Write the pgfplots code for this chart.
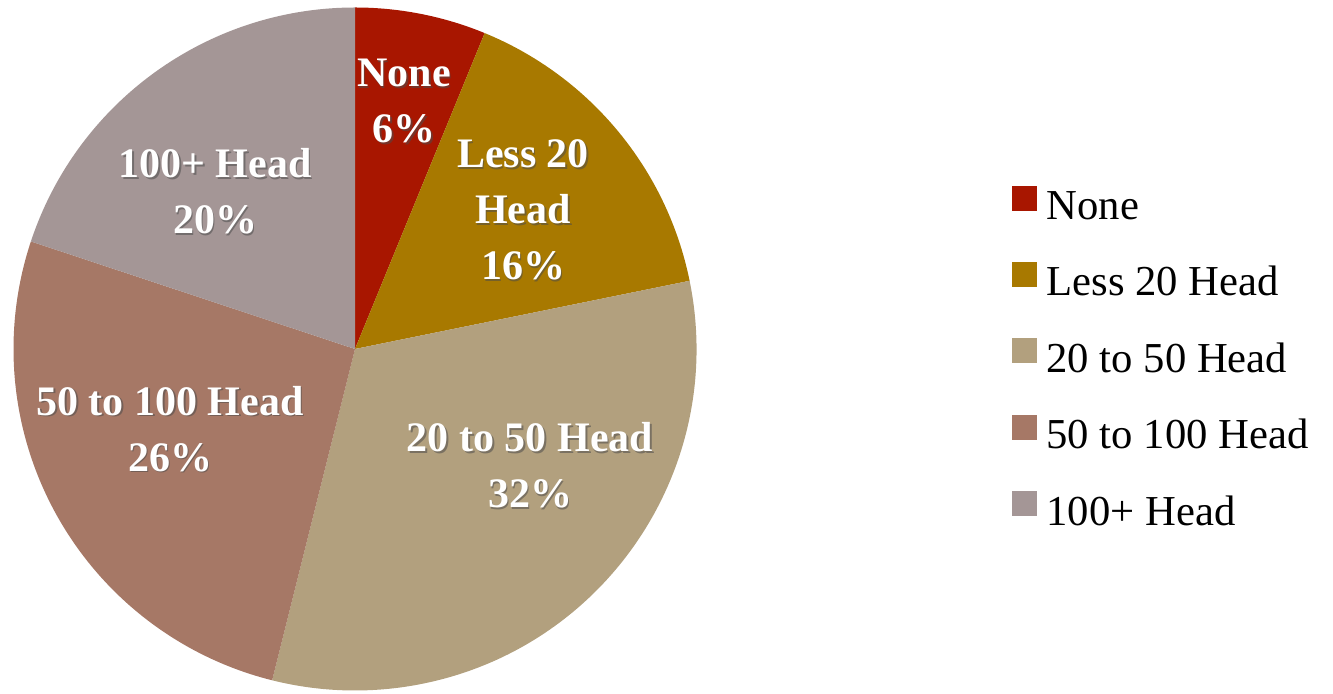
\documentclass[border=0pt]{standalone}
\usepackage{fontspec}
\setmainfont{Liberation Serif}
\usepackage{pgfplots}
\usepackage{pgfplotstable}
\pgfplotsset{compat=1.18}
\definecolor{c0}{HTML}{A81600}
\definecolor{c1}{HTML}{A87900}
\definecolor{c2}{HTML}{B2A07E}
\definecolor{c3}{HTML}{A67866}
\definecolor{c4}{HTML}{A49696}
\pgfplotstableread[col sep=comma]{
label,value
None,6.2
Less 20 Head,15.6
20 to 50 Head,32.1
50 to 100 Head,26.2
100+ Head,19.9
}\piedata
\newcommand{\slabel}[3]{%
  \node[text=black!70, opacity=0.55, align=center, font=\bfseries\fontsize{31.5}{42}\selectfont] at (axis cs:#1+1.6,#2-1.6) {#3};
  \node[text=white, align=center, font=\bfseries\fontsize{31.5}{42}\selectfont] at (axis cs:#1,#2) {#3};
}
\begin{document}
\begin{tikzpicture}
\begin{axis}[
  x=0.75pt, y=0.75pt,
  xmin=0, xmax=1333, ymin=0, ymax=689,
  hide axis, clip=false,
  legend cell align=left,
  legend style={at={(axis cs:1008,506)}, anchor=north west, draw=none, fill=none,
    font=\fontsize{32}{36}\selectfont, row sep=29.3pt, column sep=6pt,
    nodes={inner sep=1pt}},
  legend image code/.code={\fill[#1] (0pt,-3.5pt) rectangle (18.75pt,15.25pt);},
]
\path (axis cs:0,0) (axis cs:1333,689);
\def\cum{0}
\pgfplotsforeachungrouped \i in {0,...,4}{%
  \pgfplotstablegetelem{\i}{value}\of\piedata
  \let\v\pgfplotsretval
  \pgfmathsetmacro\a{90-3.6*\cum}%
  \pgfmathsetmacro\b{90-3.6*(\cum+\v)}%
  \pgfmathsetmacro\cum{\cum+\v}%
  \edef\temp{\noexpand\fill[c\i] (axis cs:355,340) -- ++(\a:256.125pt) arc[start angle=\a, end angle=\b, radius=256.125pt] -- cycle;}%
  \temp
}
\addlegendimage{fill=c0, draw=none}\addlegendentry{None}
\addlegendimage{fill=c1, draw=none}\addlegendentry{Less 20 Head}
\addlegendimage{fill=c2, draw=none}\addlegendentry{20 to 50 Head}
\addlegendimage{fill=c3, draw=none}\addlegendentry{50 to 100 Head}
\addlegendimage{fill=c4, draw=none}\addlegendentry{100+ Head}
\slabel{404}{587.5}{None\\6\%}
\slabel{523}{479}{Less 20\\Head\\16\%}
\slabel{215}{497.5}{100+ Head\\20\%}
\slabel{170}{260}{50 to 100 Head\\26\%}
\slabel{530}{223.5}{20 to 50 Head\\32\%}
\end{axis}
\end{tikzpicture}
\end{document}
